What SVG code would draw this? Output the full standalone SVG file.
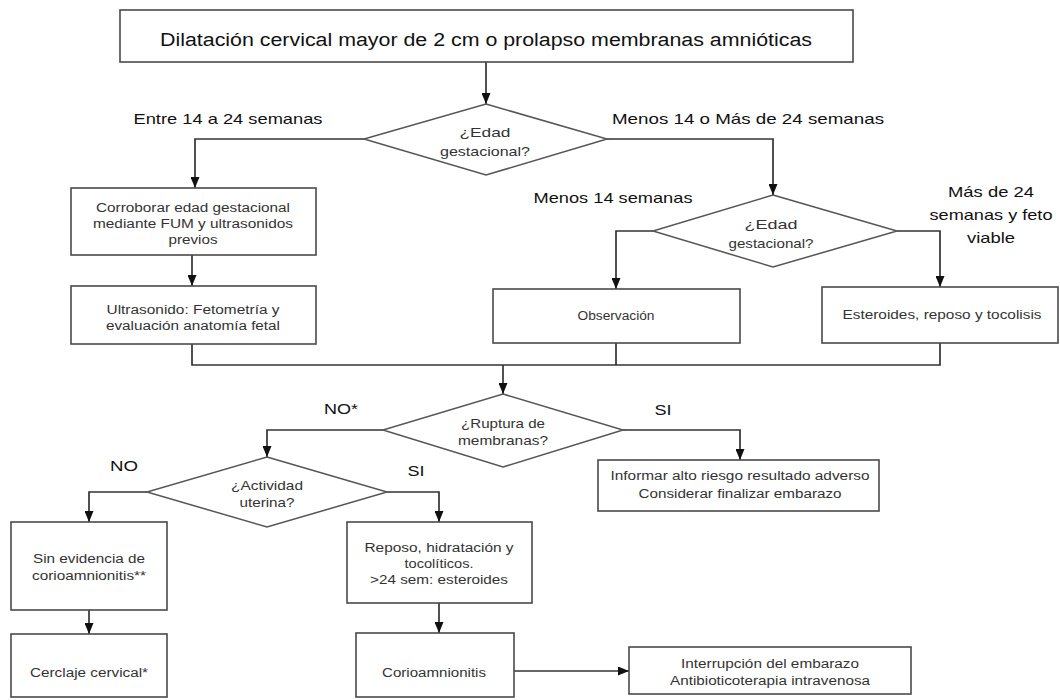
<svg xmlns="http://www.w3.org/2000/svg" width="1060" height="700" viewBox="0 0 1060 700">
<style>
.box{fill:#fff;stroke:#4a4a4a;stroke-width:1.6}
.dia{fill:#fff;stroke:#555;stroke-width:1.5}
.con{fill:none;stroke:#333;stroke-width:1.7}
text{font-family:"Liberation Sans",Arial,sans-serif;fill:#222;text-anchor:middle;dominant-baseline:central}
.t{font-size:18px;fill:#111}
.l{font-size:15px;fill:#111}
.d{font-size:13.5px;fill:#333}
.s{font-size:12.5px;fill:#333}
</style>
<defs>
<marker id="ah" viewBox="0 0 11 9" refX="11" refY="4.5" markerWidth="11" markerHeight="9" orient="auto" markerUnits="userSpaceOnUse">
<path d="M0,0 L11,4.5 L0,9 z" fill="#111"/>
</marker>
</defs>
<rect width="1060" height="700" fill="#fff"/>
<g id="connectors">
<path class="con" d="M486,62 V104" marker-end="url(#ah)"/>
<path class="con" d="M364,139 H195 V188" marker-end="url(#ah)"/>
<path class="con" d="M607,139 H773 V195" marker-end="url(#ah)"/>
<path class="con" d="M192,255 V286" marker-end="url(#ah)"/>
<path class="con" d="M653,231 H616 V289" marker-end="url(#ah)"/>
<path class="con" d="M897,231 H940 V287" marker-end="url(#ah)"/>
<path class="con" d="M192,344 V365 H940 V343 M616,343 V365"/>
<path class="con" d="M503,365 V394" marker-end="url(#ah)"/>
<path class="con" d="M383,430 H267 V457" marker-end="url(#ah)"/>
<path class="con" d="M623,430 H740 V460" marker-end="url(#ah)"/>
<path class="con" d="M147,492 H89 V522" marker-end="url(#ah)"/>
<path class="con" d="M387,492 H439 V522" marker-end="url(#ah)"/>
<path class="con" d="M89,610 V634" marker-end="url(#ah)"/>
<path class="con" d="M439,603 V633" marker-end="url(#ah)"/>
<path class="con" d="M514,671 H629" marker-end="url(#ah)"/>
</g>
<g id="labels">
<text class="l" x="228" y="118" textLength="189" lengthAdjust="spacingAndGlyphs">Entre 14 a 24 semanas</text>
<text class="l" x="748" y="118" textLength="272" lengthAdjust="spacingAndGlyphs">Menos 14 o  Más de 24 semanas</text>
<text class="l" x="613" y="197" textLength="159" lengthAdjust="spacingAndGlyphs">Menos 14 semanas</text>
<text class="l" x="991" y="191" textLength="86" lengthAdjust="spacingAndGlyphs">Más de 24</text>
<text class="l" x="991" y="214" textLength="123" lengthAdjust="spacingAndGlyphs">semanas y feto</text>
<text class="l" x="991" y="237" textLength="48" lengthAdjust="spacingAndGlyphs">viable</text>
<text class="l" x="341" y="408" textLength="34" lengthAdjust="spacingAndGlyphs">NO*</text>
<text class="l" x="663" y="409" textLength="17" lengthAdjust="spacingAndGlyphs">SI</text>
<text class="l" x="124" y="465" textLength="28" lengthAdjust="spacingAndGlyphs">NO</text>
<text class="l" x="416" y="470" textLength="17" lengthAdjust="spacingAndGlyphs">SI</text>
</g>
<g id="n-start">
<rect class="box" x="120" y="10" width="733" height="52"/>
<text class="t" x="486" y="40" textLength="652" lengthAdjust="spacingAndGlyphs">Dilatación cervical mayor de 2 cm o prolapso membranas amnióticas</text>
</g>
<g id="d-edad1">
<polygon class="dia" points="486,104 607,139 486,175 364,139"/>
<text class="d" x="485" y="132" textLength="51" lengthAdjust="spacingAndGlyphs">¿Edad</text>
<text class="d" x="485" y="151" textLength="90" lengthAdjust="spacingAndGlyphs">gestacional?</text>
</g>
<g id="n-corroborar">
<rect class="box" x="71" y="188" width="245" height="67"/>
<text class="s" x="193" y="208" textLength="194" lengthAdjust="spacingAndGlyphs">Corroborar edad gestacional</text>
<text class="s" x="193" y="224" textLength="200" lengthAdjust="spacingAndGlyphs">mediante FUM y ultrasonidos</text>
<text class="s" x="193" y="240" textLength="49" lengthAdjust="spacingAndGlyphs">previos</text>
</g>
<g id="n-ultrasonido">
<rect class="box" x="71" y="286" width="245" height="58"/>
<text class="s" x="193" y="310" textLength="173" lengthAdjust="spacingAndGlyphs">Ultrasonido: Fetometría y</text>
<text class="s" x="193" y="326" textLength="174" lengthAdjust="spacingAndGlyphs">evaluación anatomía fetal</text>
</g>
<g id="d-edad2">
<polygon class="dia" points="773,195 897,231 773,267 653,231"/>
<text class="d" x="771" y="224" textLength="53" lengthAdjust="spacingAndGlyphs">¿Edad</text>
<text class="d" x="771" y="243" textLength="85" lengthAdjust="spacingAndGlyphs">gestacional?</text>
</g>
<g id="n-observacion">
<rect class="box" x="493" y="289" width="247" height="54"/>
<text class="s" x="616" y="316" textLength="77" lengthAdjust="spacingAndGlyphs">Observación</text>
</g>
<g id="n-esteroides">
<rect class="box" x="822" y="287" width="236" height="56"/>
<text class="s" x="942" y="315" textLength="199" lengthAdjust="spacingAndGlyphs">Esteroides, reposo y tocolisis</text>
</g>
<g id="d-ruptura">
<polygon class="dia" points="503,394 623,430 503,467 383,430"/>
<text class="d" x="503" y="423" textLength="84" lengthAdjust="spacingAndGlyphs">¿Ruptura de</text>
<text class="d" x="503" y="440" textLength="90" lengthAdjust="spacingAndGlyphs">membranas?</text>
</g>
<g id="n-informar">
<rect class="box" x="598" y="460" width="281" height="51"/>
<text class="s" x="740" y="476" textLength="259" lengthAdjust="spacingAndGlyphs">Informar alto riesgo resultado adverso</text>
<text class="s" x="740" y="494" textLength="203" lengthAdjust="spacingAndGlyphs">Considerar finalizar embarazo</text>
</g>
<g id="d-actividad">
<polygon class="dia" points="267,457 387,492 267,527 147,492"/>
<text class="d" x="267" y="485" textLength="72" lengthAdjust="spacingAndGlyphs">¿Actividad</text>
<text class="d" x="267" y="502" textLength="55" lengthAdjust="spacingAndGlyphs">uterina?</text>
</g>
<g id="n-sin-evidencia">
<rect class="box" x="11" y="522" width="156" height="88"/>
<text class="s" x="89" y="559" textLength="112" lengthAdjust="spacingAndGlyphs">Sin evidencia de</text>
<text class="s" x="89" y="576" textLength="114" lengthAdjust="spacingAndGlyphs">corioamnionitis**</text>
</g>
<g id="n-cerclaje">
<rect class="box" x="11" y="634" width="156" height="63"/>
<text class="s" x="89" y="673" textLength="118" lengthAdjust="spacingAndGlyphs">Cerclaje cervical*</text>
</g>
<g id="n-reposo">
<rect class="box" x="347" y="522" width="185" height="81"/>
<text class="s" x="439" y="548" textLength="149" lengthAdjust="spacingAndGlyphs">Reposo, hidratación y</text>
<text class="s" x="439" y="564" textLength="69" lengthAdjust="spacingAndGlyphs">tocolíticos.</text>
<text class="s" x="439" y="580" textLength="138" lengthAdjust="spacingAndGlyphs">&gt;24 sem: esteroides</text>
</g>
<g id="n-corioamnionitis">
<rect class="box" x="356" y="633" width="158" height="64"/>
<text class="s" x="434" y="673" textLength="104" lengthAdjust="spacingAndGlyphs">Corioamnionitis</text>
</g>
<g id="n-interrupcion">
<rect class="box" x="629" y="647" width="282" height="47"/>
<text class="s" x="770" y="664" textLength="178" lengthAdjust="spacingAndGlyphs">Interrupción del embarazo</text>
<text class="s" x="770" y="681" textLength="200" lengthAdjust="spacingAndGlyphs">Antibioticoterapia intravenosa</text>
</g>
</svg>
